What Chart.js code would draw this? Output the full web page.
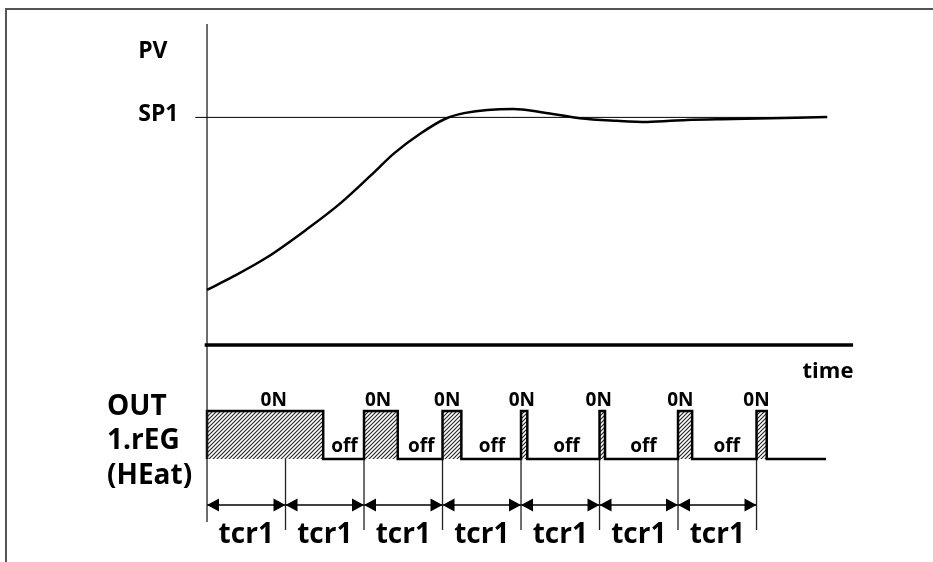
<!DOCTYPE html>
<html>
<head>
<meta charset="utf-8">
<script src="https://cdn.jsdelivr.net/npm/chart.js@4/dist/chart.umd.min.js"></script>
<style>
  html, body { margin: 0; padding: 0; background: #fff; }
  #wrap { width: 933px; height: 562px; }
</style>
</head>
<body>
<div id="wrap"><canvas id="chart" width="933" height="562"></canvas></div>
<script>
// time axis in tcr1 cycles, PV in % of SP1
const pvTime  = [0, 0.33, 0.76, 1.27, 1.69, 2.08, 2.39, 2.71, 3.03, 3.29, 3.90, 4.28, 4.75, 5.22, 5.61, 6.11, 6.70, 7.90];
const pvValue = [24.2, 30.0, 38.4, 50.8, 62.0, 74.3, 84.4, 92.7, 99.3, 102.0, 103.7, 102.2, 99.6, 98.5, 98.0, 98.9, 99.3, 100.2];
const sp1 = 100;

// output 1.rEG (HEat) : cycle boundaries and ON periods
const cycles  = [0, 1, 2, 3, 4, 5, 6, 7];
const onStart = [0, 2, 3, 4, 5, 6, 7];
const onEnd   = [1.48, 2.43, 3.24, 4.08, 5.07, 6.18, 7.13];
const outEnd  = 7.885;

const onText    = '0N';
const offText   = 'off';
const cycleText = 'tcr1';
const outLabel  = ['OUT', '1.rEG', '(HEat)'];

// where the text sits (data units)
const onLabelAt  = [0.85, 2.18, 3.06, 4.01, 4.99, 6.03, 7.0];
const offLabelAt = [1.75, 2.73, 3.63, 4.58, 5.56, 6.62];

const FONT = '"Open Sans", "DejaVu Sans", sans-serif';

// hatch for the ON blocks
function hatch() {
    const c = document.createElement('canvas');
    c.width = 4; c.height = 4;
    const g = c.getContext('2d');
    g.fillStyle = '#fff';
    g.fillRect(0, 0, 4, 4);
    g.strokeStyle = '#222';
    g.lineWidth = 1.1;
    g.beginPath();
    g.moveTo(0, 4); g.lineTo(4, 0);
    g.moveTo(-1, 1); g.lineTo(1, -1);
    g.moveTo(3, 5); g.lineTo(5, 3);
    g.stroke();
    return g.createPattern(c, 'repeat');
}

// pulse train outline
const pulse = [];
for (let i = 0; i < onStart.length; i++) {
    pulse.push({x: onStart[i], y: 0}, {x: onStart[i], y: 1}, {x: onEnd[i], y: 1}, {x: onEnd[i], y: 0});
}
pulse.push({x: outEnd, y: 0});

// cycle marker lines below the output
const ticks = [];
cycles.slice(1).forEach(b => ticks.push({x: b, y: 0}, {x: b, y: -1.48}, {x: b, y: null}));

const arrowY = -0.958;

const line = (data, w, extra) => Object.assign({
    data: data, showLine: true, borderColor: '#000', borderWidth: w,
    pointRadius: 0, fill: false, tension: 0, spanGaps: false
}, extra || {});

const textPlugin = {
    id: 'labels',
    beforeDraw(chart) {
        const ctx = chart.ctx;
        ctx.save();
        ctx.fillStyle = '#fff';
        ctx.fillRect(0, 0, chart.width, chart.height);
        ctx.strokeStyle = '#555';
        ctx.lineWidth = 2;
        ctx.beginPath();
        ctx.moveTo(6, chart.height);
        ctx.lineTo(6, 9);
        ctx.lineTo(chart.width, 9);
        ctx.stroke();
        ctx.restore();
    },
    afterDatasetsDraw(chart) {
        const ctx = chart.ctx;
        const x = chart.scales.x, y = chart.scales.y, y2 = chart.scales.y2;
        const put = (s, px, py, size, align) => {
            ctx.font = 'bold ' + size + 'px ' + FONT;
            ctx.textAlign = align || 'center';
            ctx.textBaseline = 'middle';
            ctx.fillText(s, px, py);
        };
        ctx.save();
        ctx.fillStyle = '#000';

        // arrow heads
        const ay = y2.getPixelForValue(arrowY);
        for (let i = 0; i < cycles.length - 1; i++) {
            const a = x.getPixelForValue(cycles[i]), b = x.getPixelForValue(cycles[i + 1]);
            ctx.beginPath();
            ctx.moveTo(a, ay); ctx.lineTo(a + 12, ay - 6.5); ctx.lineTo(a + 12, ay + 6.5); ctx.closePath();
            ctx.moveTo(b, ay); ctx.lineTo(b - 12, ay - 6.5); ctx.lineTo(b - 12, ay + 6.5); ctx.closePath();
            ctx.fill();
            put(cycleText, (a + b) / 2, y2.getPixelForValue(-1.583), 28);
        }

        put('PV', x.getPixelForValue(-0.69), y.getPixelForValue(128.8), 23);
        put('SP1', x.getPixelForValue(-0.62), y.getPixelForValue(101.5), 23);
        put('time', x.getPixelForValue(7.91), y.getPixelForValue(-11.9), 22);

        onLabelAt.forEach(t => put(onText, x.getPixelForValue(t), y2.getPixelForValue(1.21), 19));
        offLabelAt.forEach(t => put(offText, x.getPixelForValue(t), y2.getPixelForValue(0.26), 19));

        const lx = x.getPixelForValue(-1.274);
        [1.083, 0.375, -0.354].forEach((v, i) => put(outLabel[i], lx, y2.getPixelForValue(v), 28, 'left'));
        ctx.restore();
    }
};

new Chart(document.getElementById('chart'), {
    type: 'scatter',
    data: {
        datasets: [
            line(pvTime.map((t, i) => ({x: t, y: pvValue[i]})), 2.5, {cubicInterpolationMode: 'monotone'}),
            line([{x: -0.15, y: sp1}, {x: 7.9, y: sp1}], 1),
            line([{x: -0.03, y: 0}, {x: 8.23, y: 0}], 3.5),
            line([{x: 0, y: 141}, {x: 0, y: -77.8}], 1.3, {borderColor: '#222'}),
            line(pulse, 2.5, {yAxisID: 'y2', fill: 'origin', backgroundColor: hatch(), borderJoinStyle: 'miter'}),
            line(ticks, 1.3, {yAxisID: 'y2', borderColor: '#222'}),
            line([{x: cycles[0], y: arrowY}, {x: cycles[cycles.length - 1], y: arrowY}], 1.5, {yAxisID: 'y2'})
        ]
    },
    plugins: [textPlugin],
    options: {
        responsive: false,
        animation: false,
        layout: { padding: 0 },
        plugins: { legend: { display: false }, tooltip: { enabled: false } },
        scales: {
            x:  { type: 'linear', min: -2.637, max: 9.248, display: false },
            y:  { type: 'linear', min: -95.4, max: 151.6, display: false },
            y2: { type: 'linear', min: -2.146, max: 9.5625, display: false }
        }
    }
});
</script>
</body>
</html>
